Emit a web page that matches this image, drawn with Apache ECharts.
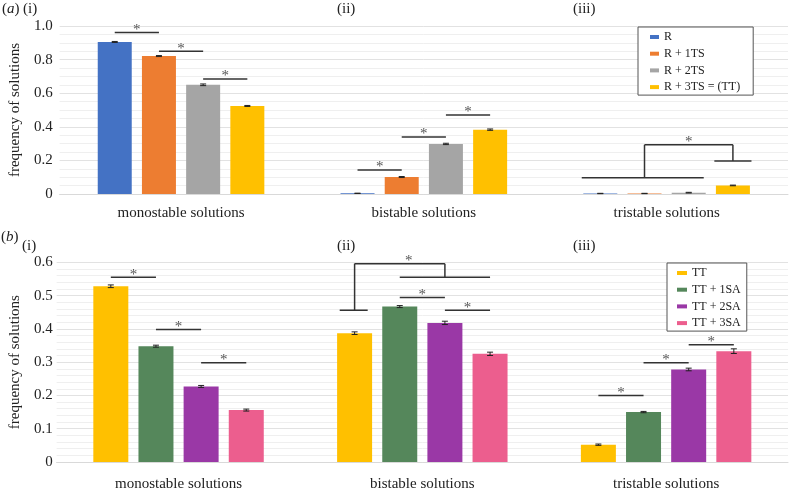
<!DOCTYPE html>
<html>
<head>
<meta charset="utf-8">
<script src="https://cdn.jsdelivr.net/npm/echarts@6/dist/echarts.min.js"></script>
<style>
  html, body { margin: 0; padding: 0; background: #fff; }
  #main { width: 790px; height: 492px; }
</style>
</head>
<body>
<div id="main"></div>
<script>
// categories shared by both panels
var categories = ['monostable solutions', 'bistable solutions', 'tristable solutions'];

// panel (a)
var namesA = ['R', 'R + 1TS', 'R + 2TS', 'R + 3TS = (TT)'];
var valR    = [0.905, 0.004, 0.003];
var valR1TS = [0.821, 0.101, 0.003];
var valR2TS = [0.650, 0.298, 0.008];
var valR3TS = [0.524, 0.383, 0.051];
var errR    = [0.003, 0.001, 0.001];
var errR1TS = [0.003, 0.003, 0.001];
var errR2TS = [0.005, 0.004, 0.002];
var errR3TS = [0.003, 0.004, 0.002];
var ticksA = [0, 0.2, 0.4, 0.6, 0.8, 1.0];

// panel (b)
var namesB = ['TT', 'TT + 1SA', 'TT + 2SA', 'TT + 3SA'];
var valTT    = [0.528, 0.387, 0.052];
var valTT1SA = [0.348, 0.467, 0.150];
var valTT2SA = [0.227, 0.418, 0.278];
var valTT3SA = [0.156, 0.325, 0.333];
var errTT    = [0.004, 0.004, 0.002];
var errTT1SA = [0.003, 0.003, 0.002];
var errTT2SA = [0.003, 0.005, 0.004];
var errTT3SA = [0.003, 0.005, 0.007];
var ticksB = [0, 0.1, 0.2, 0.3, 0.4, 0.5, 0.6];

// significance lines: [category, fromBar, toBar, value]  (an asterisk sits above each)
var sigA = [[0, 0, 1, 0.962], [0, 1, 2, 0.850], [0, 2, 3, 0.685],
            [1, 0, 1, 0.143], [1, 1, 2, 0.340], [1, 2, 3, 0.470]];
var sigB = [[0, 0, 1, 0.555], [0, 1, 2, 0.398], [0, 2, 3, 0.298],
            [1, 1, 2, 0.494], [1, 2, 3, 0.456],
            [2, 0, 1, 0.200], [2, 1, 2, 0.298], [2, 2, 3, 0.352]];
// group brackets: [category, barPos1, value1, barPos2, value2]
var treeA = [[2, -0.42, 0.097, 2.34, 0.097], [2, 1, 0.097, 1, 0.293], [2, 1, 0.293, 3, 0.293],
             [2, 3, 0.293, 3, 0.196], [2, 2.58, 0.196, 3.42, 0.196]];
var treeStarA = [[2, 2, 0.293]];
var treeB = [[1, -0.33, 0.456, 0.29, 0.456], [1, 0, 0.456, 0, 0.596], [1, 0, 0.596, 2, 0.596],
             [1, 2, 0.596, 2, 0.555], [1, 1, 0.555, 3, 0.555]];
var treeStarB = [[1, 1.2, 0.596]];

var colorsA = ['#4472C4', '#ED7D31', '#A5A5A5', '#FFC000'];
var colorsB = ['#FFC000', '#55875B', '#9A38A6', '#EC5E8E'];

var FONT = 'Liberation Serif';
var barWA = 34, gapA = 0.3;
var barWB = 35, gapB = 0.29;
var stepA = barWA * (1 + gapA);
var stepB = barWB * (1 + gapB);

function barSeries(names, vals, colors, idx, barW, gap) {
	var out = [];
	for (var i = 0; i < names.length; i++) {
		out.push({
			name: names[i],
			type: 'bar',
			xAxisIndex: idx,
			yAxisIndex: idx,
			data: vals[i],
			barWidth: barW,
			barGap: (gap * 100) + '%',
			itemStyle: { color: colors[i] },
			z: 2
		});
	}
	return out;
}

function errSeries(vals, errs, idx, step) {
	var data = [];
	for (var s = 0; s < vals.length; s++) {
		for (var c = 0; c < categories.length; c++) {
			data.push([c, s, vals[s][c], errs[s][c]]);
		}
	}
	return {
		type: 'custom',
		xAxisIndex: idx,
		yAxisIndex: idx,
		data: data,
		encode: { x: 0, y: 2 },
		z: 5,
		renderItem: function(params, api) {
			var c = api.value(0), k = api.value(1), v = api.value(2), e = api.value(3);
			var x = api.coord([c, v])[0] + (k - 1.5) * step;
			var yt = api.coord([c, v + e])[1];
			var yb = api.coord([c, v - e])[1];
			var st = { stroke: '#222', lineWidth: 1 };
			return {
				type: 'group',
				children: [
					{ type: 'line', shape: { x1: x, y1: yt, x2: x, y2: yb }, style: st },
					{ type: 'line', shape: { x1: x - 3, y1: yt, x2: x + 3, y2: yt }, style: st },
					{ type: 'line', shape: { x1: x - 3, y1: yb, x2: x + 3, y2: yb }, style: st }
				]
			};
		}
	};
}

function segSeries(segs, idx, step) {
	return {
		type: 'custom',
		xAxisIndex: idx,
		yAxisIndex: idx,
		data: segs,
		encode: { x: 0, y: 2 },
		z: 6,
		renderItem: function(params, api) {
			var c = api.value(0);
			var p1 = api.coord([c, api.value(2)]);
			var p2 = api.coord([c, api.value(4)]);
			var x1 = p1[0] + (api.value(1) - 1.5) * step;
			var x2 = p2[0] + (api.value(3) - 1.5) * step;
			return {
				type: 'line',
				shape: { x1: x1, y1: p1[1], x2: x2, y2: p2[1] },
				style: { stroke: '#333', lineWidth: 1.5 }
			};
		}
	};
}

function starSeries(stars, idx, step) {
	return {
		type: 'custom',
		xAxisIndex: idx,
		yAxisIndex: idx,
		data: stars,
		encode: { x: 0, y: 2 },
		z: 6,
		renderItem: function(params, api) {
			var c = api.value(0);
			var p = api.coord([c, api.value(2)]);
			return {
				type: 'text',
				style: {
					text: '*', x: p[0] + (api.value(1) - 1.5) * step, y: p[1] - 2.5,
					align: 'center', verticalAlign: 'middle',
					font: '15px "' + FONT + '"', fill: '#555'
				}
			};
		}
	};
}

// turn simple significance lines into segments + stars
function sigSegs(sig) {
	var out = [];
	for (var i = 0; i < sig.length; i++) out.push([sig[i][0], sig[i][1], sig[i][3], sig[i][2], sig[i][3]]);
	return out;
}
function sigStars(sig) {
	var out = [];
	for (var i = 0; i < sig.length; i++) out.push([sig[i][0], (sig[i][1] + sig[i][2]) / 2, sig[i][3]]);
	return out;
}

function yAxisCfg(idx, ticks, minorSplit, gap) {
	return {
		type: 'value',
		gridIndex: idx,
		min: ticks[0],
		max: ticks[ticks.length - 1],
		interval: ticks[1] - ticks[0],
		name: 'frequency of solutions',
		nameLocation: 'middle',
		nameGap: gap,
		nameTextStyle: { fontFamily: FONT, fontSize: 15, color: '#222' },
		axisLine: { show: false },
		axisTick: { show: false },
		axisLabel: {
			fontFamily: FONT, fontSize: 15, color: '#222', margin: idx === 0 ? 7 : 4,
			formatter: function(v) { return v === 0 ? '0' : v.toFixed(1); }
		},
		splitLine: { lineStyle: { color: '#e2e2e2', width: 1 } },
		minorTick: { show: false, splitNumber: minorSplit },
		minorSplitLine: { show: true, lineStyle: { color: '#efefef', width: 1 } }
	};
}

function xAxisCfg(idx, margin) {
	return {
		type: 'category',
		gridIndex: idx,
		data: categories,
		axisTick: { show: false },
		axisLine: { lineStyle: { color: '#d9d9d9' } },
		axisLabel: { fontFamily: FONT, fontSize: 15, color: '#222', margin: margin }
	};
}

function label(text, x, y) {
	return {
		type: 'text', x: x, y: y,
		style: {
			text: text, font: '15px "' + FONT + '"', fill: '#222',
			verticalAlign: 'middle',
			rich: { i: { fontStyle: 'italic', fontFamily: FONT, fontSize: 15 } }
		}
	};
}

var myChart = echarts.init(document.getElementById('main'), null, { renderer: 'canvas' });

var series = []
	.concat(barSeries(namesA, [valR, valR1TS, valR2TS, valR3TS], colorsA, 0, barWA, gapA))
	.concat(barSeries(namesB, [valTT, valTT1SA, valTT2SA, valTT3SA], colorsB, 1, barWB, gapB));
series.push(errSeries([valR, valR1TS, valR2TS, valR3TS], [errR, errR1TS, errR2TS, errR3TS], 0, stepA));
series.push(errSeries([valTT, valTT1SA, valTT2SA, valTT3SA], [errTT, errTT1SA, errTT2SA, errTT3SA], 1, stepB));
series.push(segSeries(sigSegs(sigA).concat(treeA), 0, stepA));
series.push(starSeries(sigStars(sigA).concat(treeStarA), 0, stepA));
series.push(segSeries(sigSegs(sigB).concat(treeB), 1, stepB));
series.push(starSeries(sigStars(sigB).concat(treeStarB), 1, stepB));

var legendBase = {
	orient: 'vertical',
	icon: 'rect',
	backgroundColor: '#fff',
	borderColor: '#555',
	borderWidth: 1,
	borderRadius: 0,
	textStyle: { fontFamily: FONT, fontSize: 12, color: '#222', lineHeight: 14 },
	itemGap: 2.7
};

var option = {
	animation: false,
	grid: [
		{ left: 56, right: 2, top: 26, height: 168 },
		{ left: 51, right: 2, top: 262.3, height: 200.4 }
	],
	xAxis: [xAxisCfg(0, 12), xAxisCfg(1, 15)],
	yAxis: [yAxisCfg(0, ticksA, 4, 36), yAxisCfg(1, ticksB, 5, 31)],
	legend: [
		Object.assign({}, legendBase, {
			data: namesA, left: 638, top: 27, itemWidth: 9, itemHeight: 4,
			padding: [3, 13, 1, 12]
		}),
		Object.assign({}, legendBase, {
			data: namesB, left: 667, top: 263, itemWidth: 10, itemHeight: 4,
			padding: [3, 6, 1, 10]
		})
	],
	graphic: [
		label('({i|a})', 2, 9), label('(i)', 23, 9), label('(ii)', 337, 9), label('(iii)', 573, 9),
		label('({i|b})', 1, 237), label('(i)', 22, 246), label('(ii)', 337, 246), label('(iii)', 573, 246)
	],
	series: series
};

myChart.setOption(option);
</script>
</body>
</html>
